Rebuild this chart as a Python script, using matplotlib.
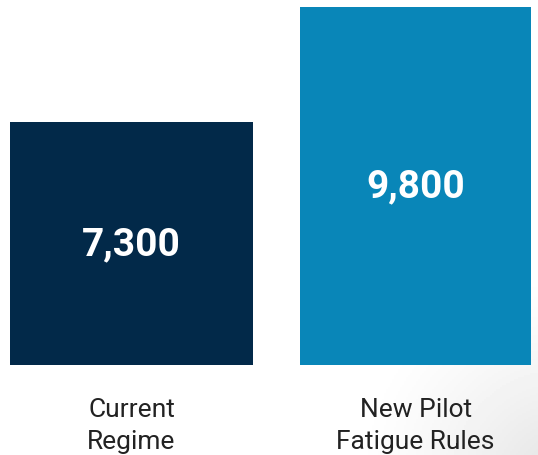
import numpy as np
import matplotlib.pyplot as plt

categories = ["Current\nRegime", "New Pilot\nFatigue Rules"]
values = [7300, 9800]
value_labels = ["7,300", "9,800"]
colors = ["#022949", "#0986b8"]

fig = plt.figure(figsize=(5.38, 4.56), dpi=100)
fig.patch.set_facecolor("white")

# soft grey shading in the lower right corner
bg = fig.add_axes([0, 0, 1, 1], zorder=0)
gx, gy = np.meshgrid(np.linspace(0, 538, 269), np.linspace(0, 456, 228))
dist = np.hypot(gx - 560, gy - 480) / 210.0
shade = 1.0 - 0.11 * np.clip(1.0 - dist, 0, 1) ** 1.3
bg.imshow(shade, cmap="gray", vmin=0, vmax=1, extent=(0, 538, 456, 0), aspect="auto")
bg.set_xlim(0, 538)
bg.set_ylim(456, 0)
bg.axis("off")

ax = fig.add_axes([0, 90 / 456, 1, 358 / 456], zorder=1)
ax.patch.set_alpha(0)
x = np.arange(len(categories))
ylo = 2017
ax.bar(x, values, width=[0.856, 0.813], color=colors)
ax.set_ylim(ylo, 9800)
ax.set_xlim(-0.463, 1.431)

for xi, v, lab in zip(x, values, value_labels):
    ax.text(xi, (ylo + v) / 2, lab, ha="center", va="center", color="white",
            fontsize=28, fontweight="bold", family="Roboto")

ax.set_xticks(x)
ax.set_xticklabels(categories, fontsize=19, color="#222222", family="Roboto",
                   fontweight="normal", linespacing=1.42)
ax.tick_params(axis="x", length=0, pad=23)
ax.set_yticks([])
for s in ax.spines.values():
    s.set_visible(False)

fig.savefig("out.png", dpi=100)
